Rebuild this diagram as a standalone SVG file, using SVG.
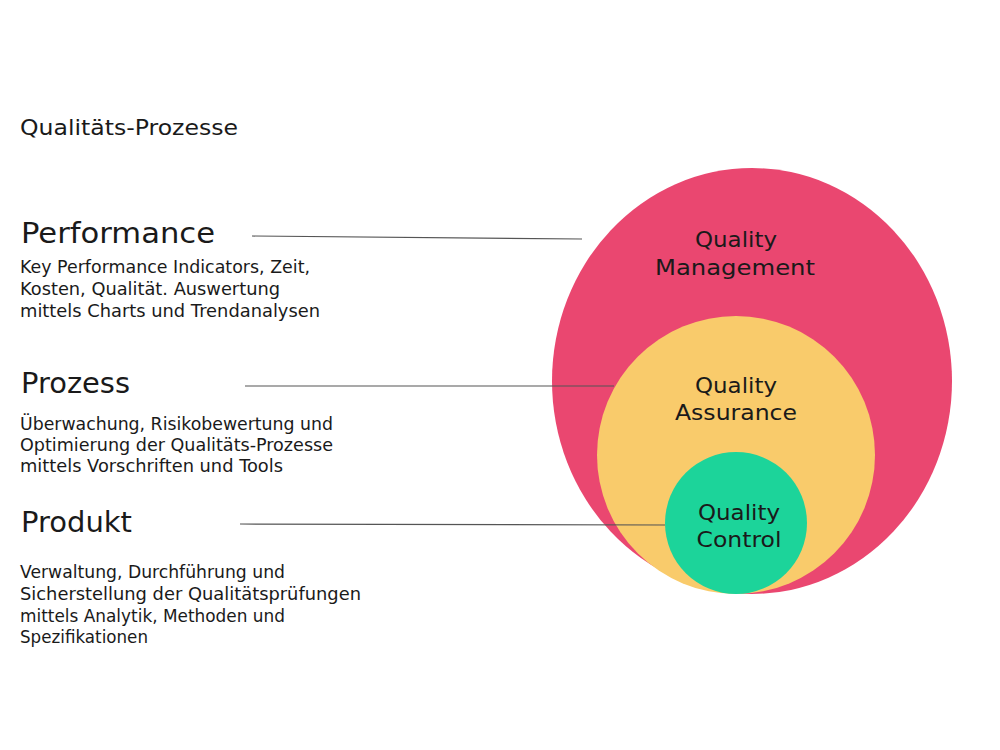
<svg xmlns="http://www.w3.org/2000/svg" width="1000" height="750" viewBox="0 0 1000 750">
<style>
text{font-family:"DejaVu Sans","Open Sans",sans-serif;fill:#1a1a1a}
.title{font-size:21px}
.head{font-size:27.5px}
.body{font-size:17px}
.lbl{font-size:22px;text-anchor:middle}
.conn{stroke:#555;stroke-width:1.2;fill:none}
</style>
<rect width="1000" height="750" fill="#ffffff"/>
<text class="title" x="20" y="135" textLength="218" lengthAdjust="spacingAndGlyphs">Qualitäts-Prozesse</text>
<g id="performance">
<text class="head" x="21" y="243" textLength="194" lengthAdjust="spacingAndGlyphs">Performance</text>
<text class="body" x="20" y="273" textLength="290" lengthAdjust="spacingAndGlyphs">Key Performance Indicators, Zeit,</text>
<text class="body" x="20" y="295" textLength="260" lengthAdjust="spacingAndGlyphs">Kosten, Qualität. Auswertung</text>
<text class="body" x="20" y="317" textLength="300" lengthAdjust="spacingAndGlyphs">mittels Charts und Trendanalysen</text>
</g>
<g id="prozess">
<text class="head" x="21" y="393" textLength="109" lengthAdjust="spacingAndGlyphs">Prozess</text>
<text class="body" x="20" y="430" textLength="313" lengthAdjust="spacingAndGlyphs">Überwachung, Risikobewertung und</text>
<text class="body" x="20" y="451" textLength="313" lengthAdjust="spacingAndGlyphs">Optimierung der Qualitäts-Prozesse</text>
<text class="body" x="20" y="472" textLength="263" lengthAdjust="spacingAndGlyphs">mittels Vorschriften und Tools</text>
</g>
<g id="produkt">
<text class="head" x="21" y="532" textLength="111" lengthAdjust="spacingAndGlyphs">Produkt</text>
<text class="body" x="20" y="578" textLength="265" lengthAdjust="spacingAndGlyphs">Verwaltung, Durchführung und</text>
<text class="body" x="20" y="600" textLength="341" lengthAdjust="spacingAndGlyphs">Sicherstellung der Qualitätsprüfungen</text>
<text class="body" x="20" y="622" textLength="265" lengthAdjust="spacingAndGlyphs">mittels Analytik, Methoden und</text>
<text class="body" x="20" y="643" textLength="128" lengthAdjust="spacingAndGlyphs">Spezifikationen</text>
</g>
<g id="quality-management">
<ellipse cx="752" cy="381" rx="200" ry="213" fill="#EA4770"/>
<text class="lbl" x="736" y="247" textLength="82" lengthAdjust="spacingAndGlyphs">Quality</text>
<text class="lbl" x="735" y="275" textLength="160" lengthAdjust="spacingAndGlyphs">Management</text>
</g>
<g id="quality-assurance">
<circle cx="736" cy="455" r="139" fill="#F9CB6B"/>
<text class="lbl" x="736" y="393" textLength="82" lengthAdjust="spacingAndGlyphs">Quality</text>
<text class="lbl" x="736" y="420" textLength="122" lengthAdjust="spacingAndGlyphs">Assurance</text>
</g>
<g id="quality-control">
<circle cx="736" cy="523" r="71" fill="#1CD49A"/>
<text class="lbl" x="739" y="520" textLength="82" lengthAdjust="spacingAndGlyphs">Quality</text>
<text class="lbl" x="739" y="547" textLength="85" lengthAdjust="spacingAndGlyphs">Control</text>
</g>
<g id="connectors">
<line class="conn" x1="252" y1="236" x2="582" y2="239"/>
<line class="conn" x1="245" y1="386" x2="614" y2="386"/>
<line class="conn" x1="240" y1="524" x2="665" y2="525"/>
</g>
</svg>
